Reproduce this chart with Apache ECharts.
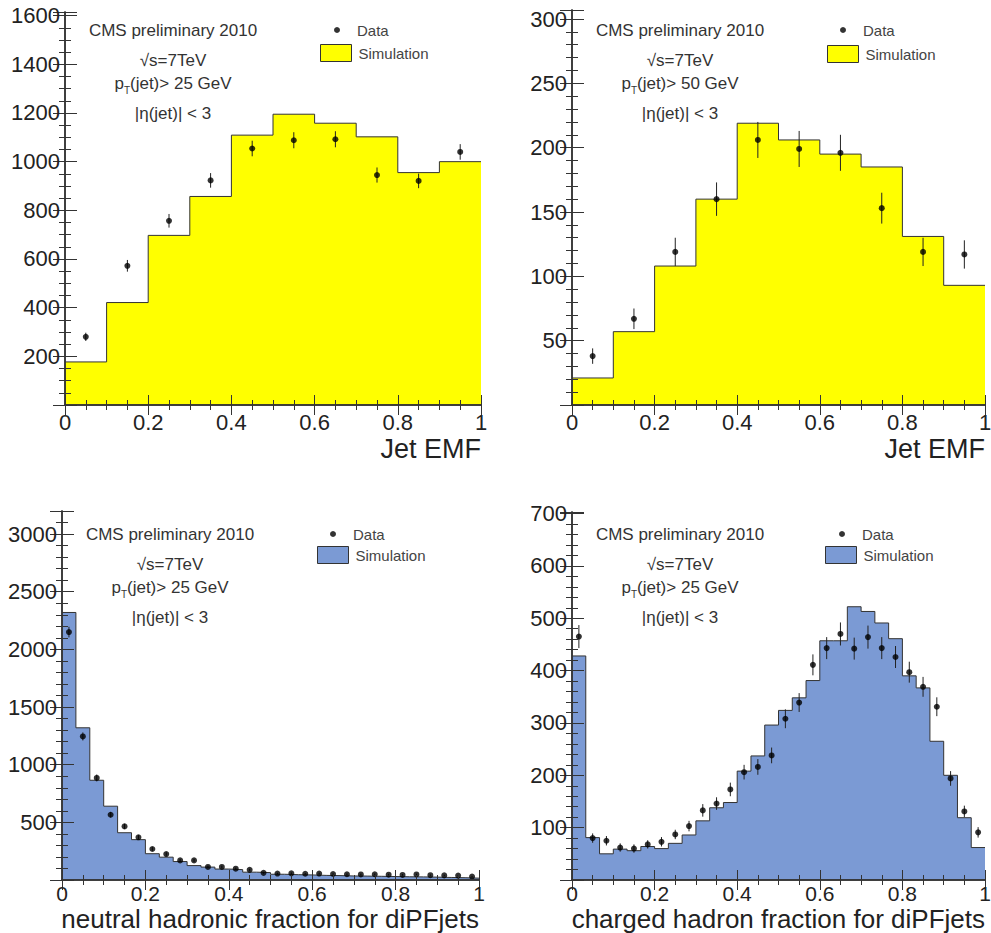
<!DOCTYPE html>
<html>
<head>
<meta charset="utf-8">
<script src="https://cdn.jsdelivr.net/npm/echarts@6/dist/echarts.min.js"></script>
<style>
  body { margin: 0; background: #ffffff; }
  #main { width: 991px; height: 933px; }
</style>
</head>
<body>
<div id="main"></div>
<script>
// Jet EMF, pT > 25 GeV (10 bins)
var emf25Sim  = [177, 421, 697, 857, 1109, 1195, 1158, 1102, 955, 1000];
var emf25Data = [280, 572, 757, 923, 1054, 1088, 1092, 945, 921, 1040];
var emf25Err  = [17, 24, 28, 30, 32, 33, 33, 31, 30, 32];

// Jet EMF, pT > 50 GeV (10 bins)
var emf50Sim  = [21, 57, 108, 160, 219, 206, 195, 185, 131, 93];
var emf50Data = [38, 67, 119, 160, 206, 199, 196, 153, 119, 117];
var emf50Err  = [6, 8, 11, 13, 14, 14, 14, 12, 11, 11];

// neutral hadronic fraction (30 bins)
var nhfSim  = [2320, 1320, 865, 640, 410, 350, 228, 198, 160, 125, 112, 95, 90, 68, 64,
               50, 46, 44, 40, 38, 35, 34, 32, 30, 28, 27, 25, 22, 20, 16];
var nhfData = [2150, 1245, 885, 566, 465, 370, 269, 225, 170, 170, 113, 113, 98, 88, 62,
               56, 58, 54, 56, 52, 50, 48, 50, 46, 44, 48, 42, 40, 38, 30];
var nhfErr  = [46, 35, 30, 24, 22, 19, 16, 15, 13, 13, 11, 11, 10, 9, 8,
               7, 8, 7, 7, 7, 7, 7, 7, 7, 7, 7, 6, 6, 6, 5];

// charged hadron fraction (30 bins)
var chfSim  = [428, 81, 50, 59, 56, 64, 60, 70, 86, 113, 138, 148, 208, 237, 296,
               324, 348, 381, 457, 457, 522, 513, 491, 461, 390, 367, 265, 200, 119, 62];
var chfData = [465, 80, 75, 62, 60, 68, 73, 87, 103, 133, 146, 173, 206, 216, 238,
               308, 339, 411, 443, 470, 442, 464, 443, 426, 397, 369, 331, 194, 131, 91];
var chfErr  = [22, 9, 9, 8, 8, 8, 9, 9, 10, 12, 12, 13, 14, 15, 15,
               18, 18, 20, 21, 22, 21, 22, 21, 21, 20, 19, 18, 14, 11, 10];

var xTicks = [0, 0.2, 0.4, 0.6, 0.8, 1];

var FONT = "'Liberation Sans', Arial, Helvetica, sans-serif";
var YELLOW = '#ffff00';
var BLUE = '#7b9ad4';
var EDGE = '#333333';

var myChart = echarts.init(document.getElementById('main'), null, { renderer: 'svg' });

// histogram outline as step line: value held from left edge to right edge of each bin
function stepData(vals) {
  var w = 1 / vals.length;
  var out = [];
  for (var i = 0; i < vals.length; i++) {
    out.push([i * w, vals[i]]);
  }
  out.push([1, vals[vals.length - 1]]);
  return out;
}
// data points at bin centres: [x, y, err]
function pointData(vals, errs) {
  var w = 1 / vals.length;
  var out = [];
  for (var i = 0; i < vals.length; i++) {
    out.push([(i + 0.5) * w, vals[i], errs[i]]);
  }
  return out;
}

var grids = [
  { left: 65,  top: 12,  width: 416, height: 393, outerBoundsMode: 'none' },
  { left: 572, top: 10,  width: 413, height: 395, outerBoundsMode: 'none' },
  { left: 62,  top: 511, width: 417, height: 369, outerBoundsMode: 'none' },
  { left: 572, top: 512, width: 413, height: 368, outerBoundsMode: 'none' }
];

var panels = [
  { sim: emf25Sim, data: emf25Data, err: emf25Err, fill: YELLOW, ymax: 1615, yint: 200, ysplit: 4, name: 'Jet EMF', namePad: 30, nameSize: 27, xLab: 22, xMargin: 6 },
  { sim: emf50Sim, data: emf50Data, err: emf50Err, fill: YELLOW, ymax: 307,  yint: 50,  ysplit: 5, name: 'Jet EMF', namePad: 30, nameSize: 27, xLab: 22, xMargin: 6 },
  { sim: nhfSim,   data: nhfData,   err: nhfErr,   fill: BLUE,   ymax: 3200, yint: 500, ysplit: 5, name: 'neutral hadronic fraction for diPFjets', namePad: 26, nameSize: 26, xLab: 21, xMargin: 3 },
  { sim: chfSim,   data: chfData,   err: chfErr,   fill: BLUE,   ymax: 703,  yint: 100, ysplit: 5, name: 'charged hadron fraction for diPFjets', namePad: 26, nameSize: 26, xLab: 21, xMargin: 3 }
];

var xAxes = [], yAxes = [], series = [], legends = [], graphics = [];

var lineCommon = { show: true, lineStyle: { color: EDGE, width: 1.5 } };

function plainNum(v) {
  return String(v);
}

for (var g = 0; g < panels.length; g++) {
  var p = panels[g];
  // bottom x
  xAxes.push({
    type: 'value', gridIndex: g, position: 'bottom', min: xTicks[0], max: xTicks[xTicks.length - 1], interval: 0.2,
    axisLine: lineCommon,
    axisTick: { inside: true, length: 10, lineStyle: { color: EDGE } },
    minorTick: { show: true, splitNumber: 4, length: 5, lineStyle: { color: EDGE } },
    splitLine: { show: false },
    axisLabel: { color: '#222', fontSize: p.xLab, fontFamily: FONT, margin: p.xMargin, formatter: plainNum },
    name: p.name, nameLocation: 'end', nameGap: 0, nameMoveOverlap: false,
    nameTextStyle: { color: '#222', fontSize: p.nameSize, fontFamily: FONT, align: 'right', verticalAlign: 'top', padding: [p.namePad, 0, 0, 0] },
    z: 5
  });
  // top x (frame ticks only)
  xAxes.push({
    type: 'value', gridIndex: g, position: 'top', min: 0, max: 1, interval: 0.2,
    axisLine: lineCommon,
    axisTick: { inside: true, length: 10, lineStyle: { color: EDGE } },
    minorTick: { show: true, splitNumber: 4, length: 5, lineStyle: { color: EDGE } },
    splitLine: { show: false },
    axisLabel: { show: false },
    z: 5
  });
  // left y
  yAxes.push({
    type: 'value', gridIndex: g, position: 'left', min: 0, max: p.ymax, interval: p.yint,
    axisLine: lineCommon,
    axisTick: { inside: true, length: 12, lineStyle: { color: EDGE } },
    minorTick: { show: true, splitNumber: p.ysplit, length: 6, lineStyle: { color: EDGE } },
    splitLine: { show: false },
    axisLabel: { color: '#222', fontSize: 22, fontFamily: FONT, margin: 5, showMinLabel: false, showMaxLabel: false, formatter: plainNum },
    z: 5
  });
  // right y (frame ticks only)
  yAxes.push({
    type: 'value', gridIndex: g, position: 'right', min: 0, max: p.ymax, interval: p.yint,
    axisLine: lineCommon,
    axisTick: { inside: true, length: 12, lineStyle: { color: EDGE } },
    minorTick: { show: true, splitNumber: p.ysplit, length: 6, lineStyle: { color: EDGE } },
    splitLine: { show: false },
    axisLabel: { show: false },
    z: 5
  });

  series.push({
    name: 'Simulation', type: 'line', step: 'end',
    xAxisIndex: 2 * g, yAxisIndex: 2 * g,
    data: stepData(p.sim),
    symbol: 'none', silent: true,
    lineStyle: { color: EDGE, width: 1 },
    areaStyle: { color: p.fill, opacity: 1 },
    z: 2
  });
  series.push({
    type: 'custom', xAxisIndex: 2 * g, yAxisIndex: 2 * g,
    data: pointData(p.data, p.err), silent: true,
    encode: { x: 0, y: 1 },
    renderItem: function (params, api) {
      var x = api.value(0), y = api.value(1), e = api.value(2);
      var a = api.coord([x, y - e]);
      var b = api.coord([x, y + e]);
      return { type: 'line', shape: { x1: a[0], y1: a[1], x2: b[0], y2: b[1] }, style: { stroke: '#222', lineWidth: 1 } };
    },
    z: 3
  });
  series.push({
    name: 'Data', type: 'scatter',
    xAxisIndex: 2 * g, yAxisIndex: 2 * g,
    data: pointData(p.data, p.err), silent: true,
    symbol: 'circle', symbolSize: 6,
    itemStyle: { color: '#000' },
    z: 4
  });
}

// legend + annotation positions for each panel
var legendPos = [
  { dot: [334, 21], box: [320, 44], cx: 173 },
  { dot: [840, 21], box: [827, 45], cx: 680 },
  { dot: [330, 525], box: [317, 546], cx: 170 },
  { dot: [839, 525], box: [825, 546], cx: 680 }
];
var textTop = [30, 30, 534, 534];
var ptCuts = ['25', '50', '25', '25'];

for (var k = 0; k < legendPos.length; k++) {
  var L = legendPos[k];
  legends.push({
    left: L.dot[0], top: L.dot[1], padding: 0, selectedMode: false,
    itemWidth: 6, itemHeight: 6,
    data: [{ name: 'Data', icon: 'circle', itemStyle: { color: '#000' } }],
    textStyle: { color: '#444', fontSize: 15, fontFamily: FONT, lineHeight: 18, padding: [0, 0, 0, 12] }
  });
  legends.push({
    left: L.box[0], top: L.box[1], padding: 0, selectedMode: false,
    itemWidth: 31, itemHeight: 17,
    data: [{ name: 'Simulation', icon: 'rect', itemStyle: { color: panels[k].fill, borderColor: EDGE, borderWidth: 1 } }],
    textStyle: { color: '#444', fontSize: 15, fontFamily: FONT, lineHeight: 18, padding: [0, 0, 0, 2] }
  });

  var baseStyle = { fill: '#333', fontSize: 17, fontFamily: FONT, align: 'center', verticalAlign: 'middle' };
  var ty = textTop[k];
  graphics.push({ type: 'text', x: L.cx, y: ty, style: Object.assign({ text: 'CMS preliminary 2010' }, baseStyle) });
  graphics.push({ type: 'text', x: L.cx, y: ty + 30, style: Object.assign({ text: '√s=7TeV' }, baseStyle) });
  graphics.push({ type: 'text', x: L.cx, y: ty + 53, style: Object.assign({
    text: 'p{sub|T}(jet)> ' + ptCuts[k] + ' GeV',
    rich: { sub: { fontSize: 10, fontFamily: FONT, fill: '#333', verticalAlign: 'bottom', padding: [14, 0, 0, 0] } }
  }, baseStyle) });
  graphics.push({ type: 'text', x: L.cx, y: ty + 83, style: Object.assign({ text: '|η(jet)| < 3' }, baseStyle) });
}

var option = {
  backgroundColor: '#ffffff',
  animation: false,
  textStyle: { fontFamily: FONT },
  grid: grids,
  xAxis: xAxes,
  yAxis: yAxes,
  legend: legends,
  graphic: graphics,
  series: series
};

myChart.setOption(option);
window.addEventListener('resize', function () {
  myChart.resize();
});
</script>
</body>
</html>
